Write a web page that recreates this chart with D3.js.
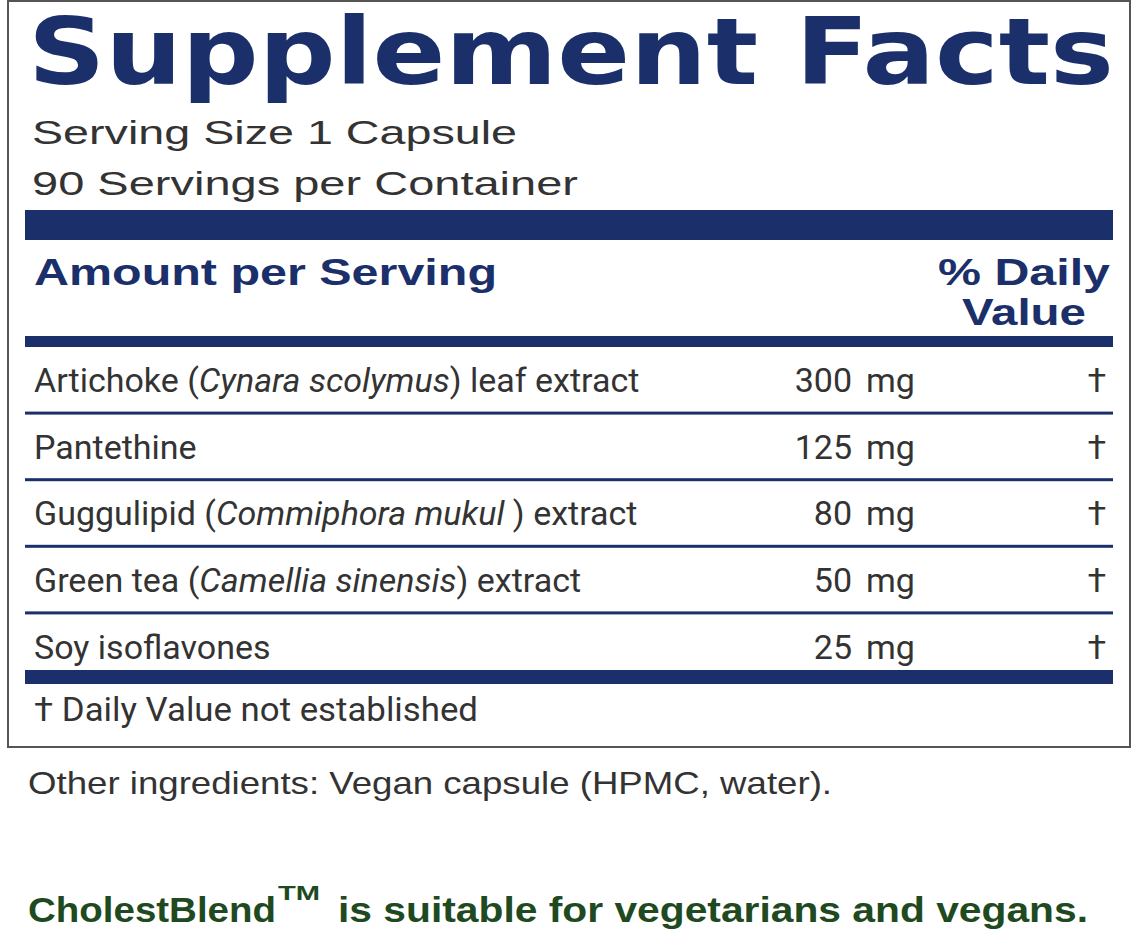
<!DOCTYPE html>
<html><head><meta charset="utf-8">
<script src="https://cdn.jsdelivr.net/npm/d3@7/dist/d3.min.js"></script>
<style>body{margin:0;background:#fff}</style></head>
<body><svg id="c" width="1138" height="936"></svg>
<script>
const names = [
  [["Artichoke (",""],["Cynara scolymus","i"],[") leaf extract",""]],
  [["Pantethine",""]],
  [["Guggulipid (",""],["Commiphora mukul","i"],[" ) extract",""]],
  [["Green tea (",""],["Camellia sinensis","i"],[") extract",""]],
  [["Soy isoflavones",""]]
];
const amounts = [300,125,80,50,25];
const units = ["mg","mg","mg","mg","mg"];
const dv = ["†","†","†","†","†"];

const navy="#1b2f6b", gray="#333", green="#1f4a1f";
const svg=d3.select("#c");
const narrow="'Liberation Sans Narrow','Arial Narrow','Roboto',sans-serif";
svg.append("rect").attr("x",8).attr("y",1).attr("width",1122).attr("height",746)
  .attr("fill","none").attr("stroke","#555").attr("stroke-width",2);
svg.append("text").attr("x",28).attr("y",84).attr("font-family","'DejaVu Sans',sans-serif")
  .attr("font-weight","bold").attr("font-size",92).attr("fill",navy)
  .attr("textLength",1086).attr("lengthAdjust","spacingAndGlyphs").text("Supplement Facts");
const t=(x,y,s,o={})=>{const e=svg.append("text").attr("x",x).attr("y",y).attr("font-family",o.f||"'Liberation Sans',Arial,sans-serif")
  .attr("font-size",o.fs||33).attr("font-weight",o.w||"normal").attr("fill",o.c||gray)
  .attr("text-anchor",o.a||"start").text(s);
  if(o.L) e.attr("textLength",o.L).attr("lengthAdjust","spacingAndGlyphs"); return e;};
t(32,144,"Serving Size 1 Capsule",{L:485});
t(32,195,"90 Servings per Container",{L:546});
svg.append("rect").attr("x",25).attr("y",210).attr("width",1088).attr("height",30).attr("fill",navy);
t(34,285,"Amount per Serving",{w:"bold",c:navy,fs:36,L:463});
t(938,285,"% Daily",{w:"bold",c:navy,fs:36,L:172});
t(962,325,"Value",{w:"bold",c:navy,fs:36,L:124});
svg.append("rect").attr("x",25).attr("y",336).attr("width",1088).attr("height",11).attr("fill",navy);

const y=d3.scaleBand().domain(d3.range(names.length)).range([347,680]);
names.forEach((parts,i)=>{
  const yy=y(i)+y.bandwidth()*0.68;
  const tx=svg.append("text").attr("x",34).attr("y",yy).attr("font-family",narrow)
    .attr("font-size",34).attr("fill",gray);
  parts.forEach(p=>tx.append("tspan").attr("font-style",p[1]?"italic":"normal").text(p[0]));
  t(852,yy,amounts[i],{f:narrow,fs:34,a:"end"});
  t(866,yy,units[i],{f:narrow,fs:34});
  t(1097,yy,dv[i],{f:narrow,fs:34,a:"middle"});
  if(i<names.length-1) svg.append("rect").attr("x",25).attr("y",y(i+1)-2).attr("width",1088).attr("height",3).attr("fill",navy);
});
svg.append("rect").attr("x",25).attr("y",670).attr("width",1088).attr("height",14).attr("fill",navy);
t(34,721,"†  Daily Value not established",{f:narrow,fs:34,L:444});
t(28,794,"Other ingredients: Vegan capsule (HPMC, water).",{fs:32,L:804});
const g=t(28,922,"CholestBlend",{w:"bold",c:green,fs:35,L:248});
const g2=t(338,922," is suitable for vegetarians and vegans.",{w:"bold",c:green,fs:35,L:750});
t(278,900,"TM",{w:"bold",c:green,fs:20,L:42});
</script></body></html>
